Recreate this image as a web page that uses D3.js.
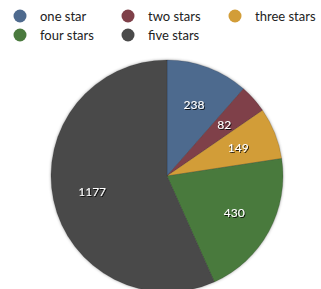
<!DOCTYPE html>
<html>
<head>
<title>Star ratings</title>
<script src="https://cdn.jsdelivr.net/npm/d3@7"></script>
<style>
html, body { margin: 0; background: #fff; }
svg { display: block; }
.legend text { font: 13px Lato, "DejaVu Sans", sans-serif; fill: #222; }
.slice-label { font: 12px Lato, "DejaVu Sans", sans-serif; fill: #fff; }
</style>
</head>
<body>
<svg width="321" height="289"></svg>
<script>
var categories = ["one star", "two stars", "three stars", "four stars", "five stars"];
var counts = [238, 82, 149, 430, 1177];
var colors = ["#4e6a8e", "#7f4049", "#d29d38", "#4a7a3e", "#4a4a4a"];

var svg = d3.select("svg"),
    cx = 167, cy = 176, radius = 116;

var defs = svg.append("defs");
var f = defs.append("filter").attr("id", "shadow").attr("x", "-10%").attr("y", "-10%").attr("width", "120%").attr("height", "120%");
f.append("feDropShadow").attr("dx", 0).attr("dy", 0).attr("stdDeviation", 1.5).attr("flood-color", "#000").attr("flood-opacity", 0.35);
var tf = defs.append("filter").attr("id", "textshadow");
tf.append("feDropShadow").attr("dx", 1).attr("dy", 1).attr("stdDeviation", 0.6).attr("flood-color", "#000").attr("flood-opacity", 0.8);

var color = d3.scaleOrdinal().domain(categories).range(colors);

var data = categories.map(function(c, i) { return {name: c, value: counts[i]}; });

var pie = d3.pie().sort(null).value(function(d) { return d.value; });
var arc = d3.arc().innerRadius(0).outerRadius(radius);
var labelArc = d3.arc().innerRadius(radius * 0.66).outerRadius(radius * 0.66);

var g = svg.append("g").attr("transform", "translate(" + cx + "," + cy + ")");

g.append("g").attr("filter", "url(#shadow)")
    .selectAll("path")
    .data(pie(data))
    .enter().append("path")
    .attr("d", arc)
    .attr("fill", function(d) { return color(d.data.name); })
    .attr("stroke", "rgba(0,0,0,0.25)")
    .attr("stroke-width", 0.6);

g.selectAll(".slice-label")
    .data(pie(data))
    .enter().append("text")
    .attr("class", "slice-label")
    .attr("filter", "url(#textshadow)")
    .attr("transform", function(d) { return "translate(" + labelArc.centroid(d) + ")"; })
    .attr("text-anchor", "middle")
    .attr("dy", "0.35em")
    .text(function(d) { return d.data.value; });

// legend, three per row
var legend = svg.append("g").attr("class", "legend");
var colX = [20, 128, 235], rowY = [16, 35];
var item = legend.selectAll("g")
    .data(categories)
    .enter().append("g")
    .attr("transform", function(d, i) { return "translate(" + colX[i % 3] + "," + rowY[Math.floor(i / 3)] + ")"; });
item.append("circle").attr("r", 6.5).attr("fill", function(d) { return color(d); });
item.append("text").attr("x", 20).attr("dy", "0.35em").text(function(d) { return d; });
</script>
</body>
</html>
